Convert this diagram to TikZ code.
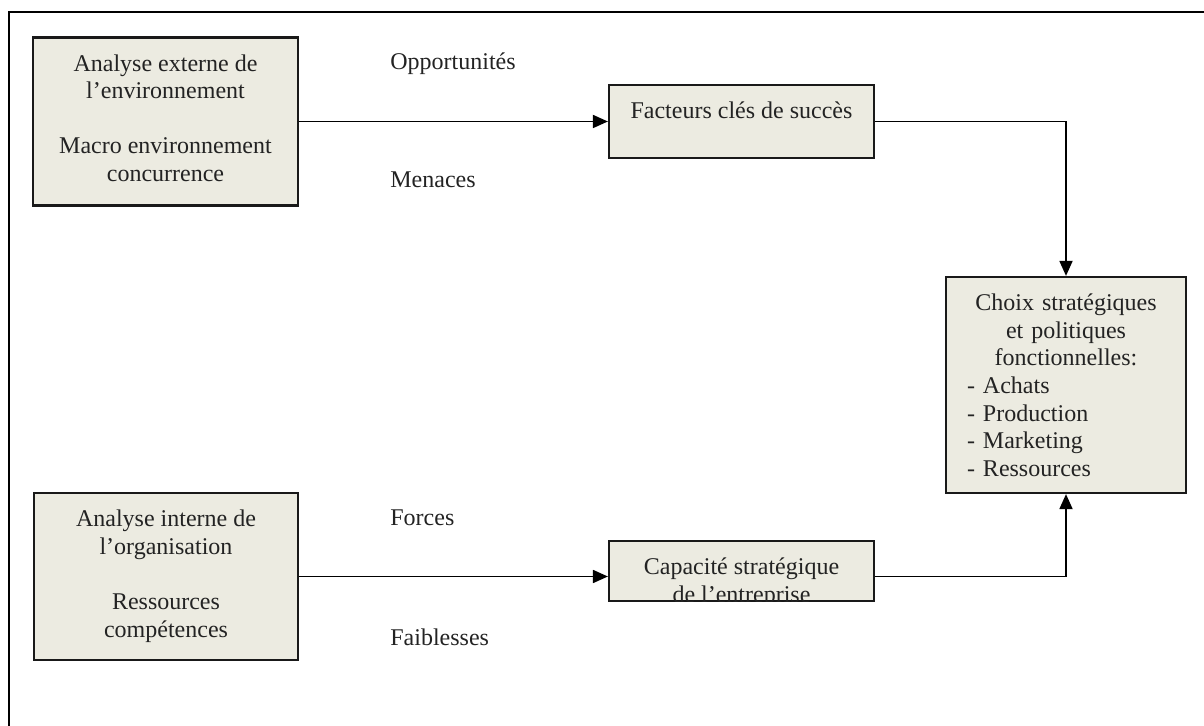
\documentclass[tikz,border=0pt]{standalone}
\usepackage{fontspec}
\setmainfont{Liberation Serif}
\usepackage{xcolor}
\usetikzlibrary{arrows.meta}
\definecolor{boxfill}{RGB}{236,235,225}
\definecolor{txtgray}{RGB}{35,35,35}

\begin{document}
\begin{tikzpicture}[x = 0.5pt, y = -0.5pt,
	box/.style = {draw = black!90, line width = 1.1pt, fill = boxfill, inner sep = 0pt},
	txt/.style = {text = txtgray, font = \fontsize{12}{13.8}\selectfont, inner sep = 0pt, align = center},
	link/.style = {line width = 0.9pt, -{Triangle[length = 7.5pt, width = 6.5pt]}}]
	\useasboundingbox (0,0) rectangle (1204,726);
	\draw[line width = 1pt] (9,726) -- (9,12) -- (1204,12);
	% boxes
	\node[box, minimum width = 132.5pt, minimum height = 84pt] (ext) at (165.5,121.5) {};
	\node[box, minimum width = 132.5pt, minimum height = 36.5pt] (fcs) at (741.5,121.5) {};
	\node[box, minimum width = 120pt, minimum height = 108pt] (choix) at (1066,385) {};
	\node[box, minimum width = 132pt, minimum height = 83.5pt] (int) at (166,576.5) {};
	\node[box, minimum width = 132.5pt, minimum height = 30pt] (cap) at (741.5,571) {};
	% box texts
	\node[txt, anchor = north] (extT) at ([yshift = -7.5pt]ext.north) {\strut Analyse externe de\\ l’environnement\\ \\ Macro environnement\\ concurrence};
	\node[txt, anchor = north] (fcsT) at ([yshift = -7.5pt]fcs.north) {\strut Facteurs clés de succès};
	\node[txt, anchor = north, align = left, text width = 99pt] (choixT) at ([yshift = -7.5pt]choix.north)
		{{\centering\strut Choix stratégiques\\ et politiques\\ fonctionnelles:\par}- Achats\\ - Production\\ - Marketing\\ - Ressources};
	\node[txt, anchor = north] (intT) at ([yshift = -7.5pt]int.north) {\strut Analyse interne de\\ l’organisation\\ \\ Ressources\\ compétences};
	\begin{scope}
		\clip ([yshift = 0.55pt]cap.south west) rectangle (cap.north east);
		\node[txt, anchor = north] (capT) at ([yshift = -7.5pt]cap.north) {\strut Capacité stratégique\\ de l’entreprise};
	\end{scope}
	% side labels
	\node[txt, anchor = base west] (opp) at (390,70) {Opportunités};
	\node[txt, anchor = base west] (men) at (390,188) {Menaces};
	\node[txt, anchor = base west] (for) at (390,525) {Forces};
	\node[txt, anchor = base west] (fai) at (390,645) {Faiblesses};
	% connectors
	\draw[link] (ext.east) -- (fcs.west);
	\draw[link] (fcs.east) -| (choix.north);
	\draw[link] (int.east) -- (int.east -| cap.west);
	\draw[link] (int.east -| cap.east) -| (choix.south);
\end{tikzpicture}
\end{document}
